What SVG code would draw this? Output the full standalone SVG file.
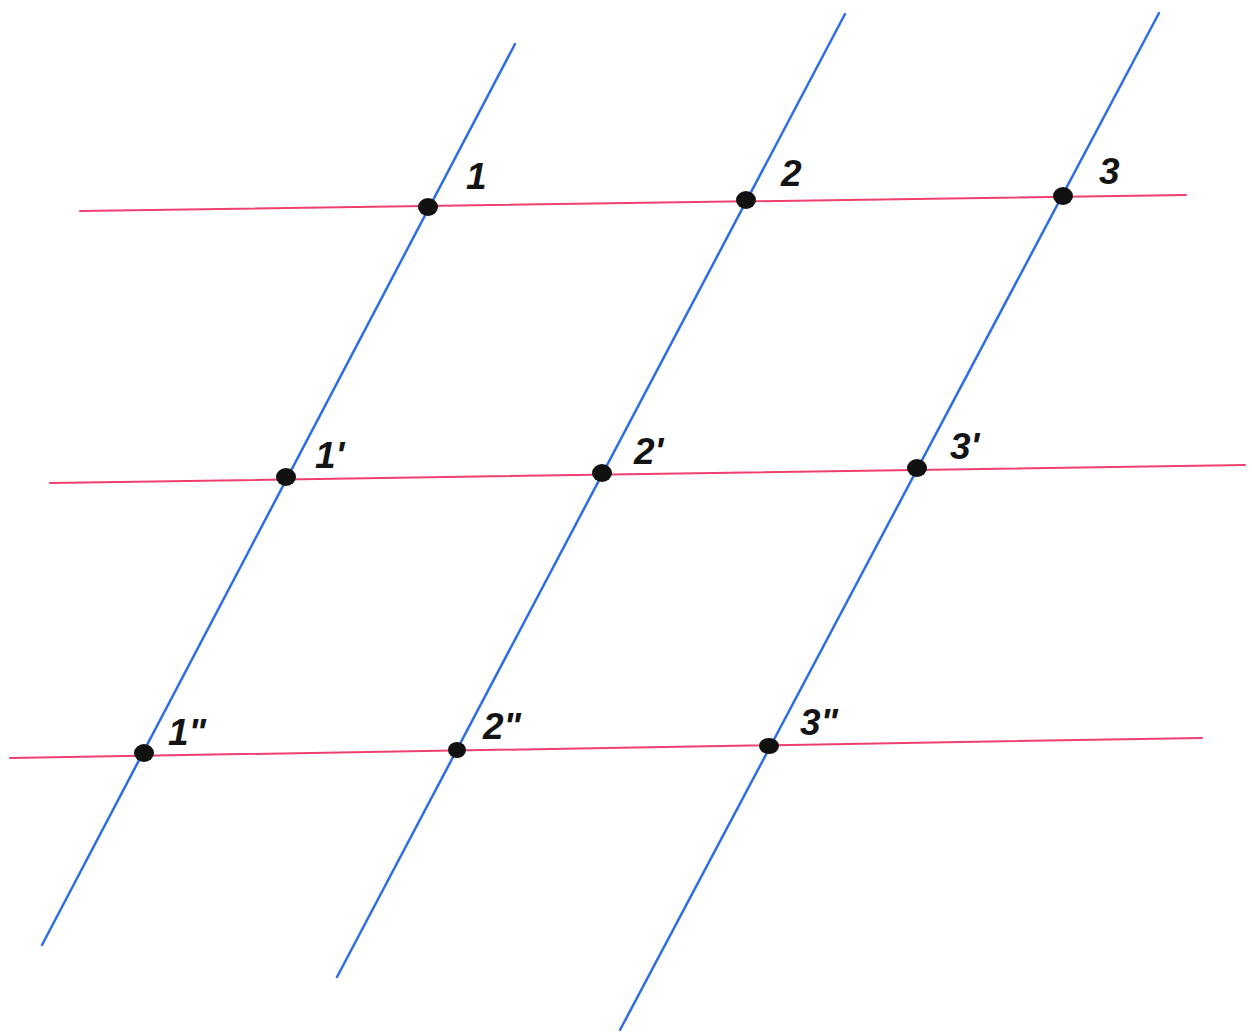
<svg xmlns="http://www.w3.org/2000/svg" width="1252" height="1034" viewBox="0 0 1252 1034">
<style>
.blue{stroke:#2f6ee0;stroke-width:2.5;fill:none;stroke-linecap:round}
.red{stroke:#ee3f6e;stroke-width:2;fill:none;stroke-linecap:round}
.dot{fill:#111}
.lbl{font-family:"Liberation Sans",Arial,sans-serif;font-weight:bold;font-style:italic;font-size:37px;fill:#141414}
</style>
<rect width="1252" height="1034" fill="#ffffff"/>
<g id="connectors">
<line class="red" x1="80" y1="211" x2="1186" y2="195"/>
<line class="red" x1="50" y1="483" x2="1245" y2="465"/>
<line class="red" x1="10" y1="758" x2="1202" y2="738"/>
<line class="blue" x1="515" y1="44" x2="42" y2="945"/>
<line class="blue" x1="845" y1="14" x2="337" y2="977"/>
<line class="blue" x1="1159" y1="13" x2="620" y2="1030"/>
</g>
<g id="n1"><ellipse class="dot" cx="428" cy="207" rx="10" ry="9"/><text class="lbl" x="466" y="189">1</text></g>
<g id="n2"><ellipse class="dot" cx="746" cy="200" rx="10" ry="9"/><text class="lbl" x="781" y="186">2</text></g>
<g id="n3"><ellipse class="dot" cx="1063" cy="196" rx="10" ry="9"/><text class="lbl" x="1099" y="184">3</text></g>
<g id="n1p"><ellipse class="dot" cx="286" cy="477" rx="10" ry="9"/><text class="lbl" x="315" y="468">1'</text></g>
<g id="n2p"><ellipse class="dot" cx="602" cy="473" rx="10" ry="9"/><text class="lbl" x="634" y="464">2'</text></g>
<g id="n3p"><ellipse class="dot" cx="917" cy="468" rx="10" ry="9"/><text class="lbl" x="950" y="459">3'</text></g>
<g id="n1pp"><ellipse class="dot" cx="144" cy="753" rx="10" ry="9"/><text class="lbl" x="168" y="745">1"</text></g>
<g id="n2pp"><ellipse class="dot" cx="457" cy="750" rx="9" ry="8"/><text class="lbl" x="483" y="739">2"</text></g>
<g id="n3pp"><ellipse class="dot" cx="769" cy="746" rx="10" ry="8"/><text class="lbl" x="800" y="735">3"</text></g>
</svg>
